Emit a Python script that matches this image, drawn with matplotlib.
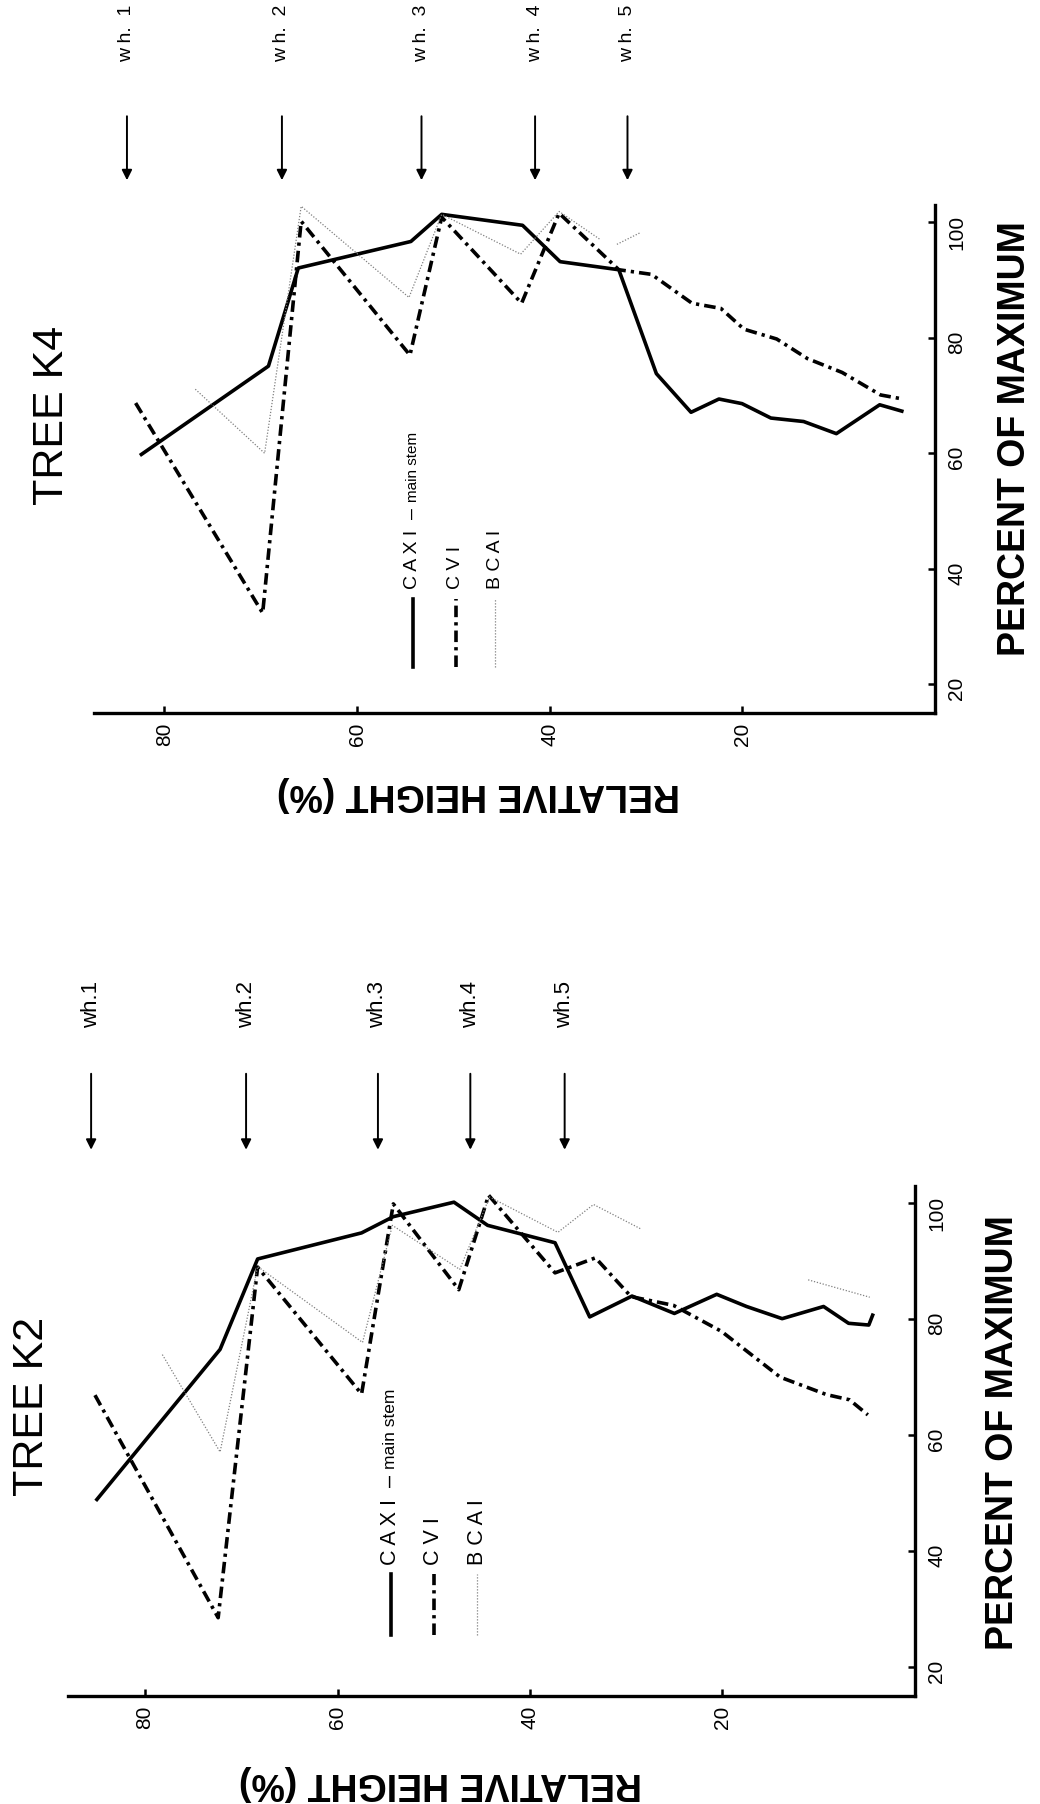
import numpy as np
import matplotlib
matplotlib.use("Agg")
import matplotlib.pyplot as plt

plt.rcParams["font.family"] = ["Liberation Sans", "DejaVu Sans"]

# ------------------------------------------------------------
# Tree K4: relative height (%) vs percent of maximum
# ------------------------------------------------------------
k4_caxi_height = [82.4, 69.2, 66.1, 54.4, 51.2, 42.8, 38.9, 32.8, 28.9, 25.3,
                  22.4, 20.0, 17.0, 13.6, 10.2, 5.7, 3.4]
k4_caxi_pct = [59.8, 75.1, 92.1, 96.7, 101.4, 99.5, 93.2, 91.8, 73.8, 67.1,
               69.4, 68.6, 66.1, 65.5, 63.4, 68.4, 67.3]

k4_cvi_height = [83.0, 69.8, 65.8, 54.5, 51.2, 42.9, 39.0, 32.8, 29.4, 25.2,
                 22.2, 19.8, 16.4, 13.2, 9.6, 5.6, 3.3]
k4_cvi_pct = [68.7, 32.3, 100.2, 77.0, 100.9, 86.0, 101.6, 91.8, 91.0, 86.0,
              85.1, 81.5, 79.8, 76.4, 74.0, 70.1, 69.4]

k4_bcai_height = [76.8, 69.6, 65.8, 54.6, 51.2, 43.0, 39.0, 34.7, np.nan, 33.0, 30.6]
k4_bcai_pct = [71.1, 60.0, 102.8, 87.0, 101.4, 94.5, 101.9, 97.0, np.nan, 96.2, 98.2]

k4_whorl_height = [83.9, 67.8, 53.3, 41.5, 31.9]
k4_whorl_labels = ["w h.  1", "w h.  2", "w h.  3", "w h.  4", "w h.  5"]

# ------------------------------------------------------------
# Tree K2
# ------------------------------------------------------------
k2_caxi_height = [85.0, 72.2, 68.3, 57.5, 54.2, 47.9, 44.4, 37.4, 33.8, 29.4,
                  25.0, 20.6, 17.5, 13.8, 9.5, 6.9, 4.8, 4.4]
k2_caxi_pct = [48.9, 74.8, 90.4, 94.9, 97.7, 100.2, 96.2, 93.2, 80.4, 84.0,
               81.0, 84.3, 82.2, 80.1, 82.2, 79.3, 79.0, 80.7]

k2_cvi_height = [85.2, 72.4, 68.3, 57.5, 54.2, 47.4, 44.3, 37.4, 33.2, 29.5,
                 25.1, 20.1, 14.0, 9.2, 6.8, 4.9]
k2_cvi_pct = [66.9, 28.5, 89.0, 67.1, 99.9, 85.1, 101.4, 88.0, 90.6, 83.9,
              82.4, 77.9, 70.0, 67.0, 66.1, 63.5]

k2_bcai_height = [78.2, 72.2, 68.3, 57.4, 54.3, 47.3, 44.2, 37.1, 33.4, 28.5,
                  np.nan, 11.1, 4.7]
k2_bcai_pct = [73.9, 57.1, 89.1, 76.0, 96.2, 88.6, 101.1, 95.0, 99.8, 95.6,
               np.nan, 86.8, 83.8]

k2_whorl_height = [85.6, 69.5, 55.8, 46.2, 36.4]
k2_whorl_labels = ["wh.1", "wh.2", "wh.3", "wh.4", "wh.5"]

height_ticks = [80, 60, 40, 20]
pct_ticks = [20, 40, 60, 80, 100]
legend_labels = ["C A X I  \u2013", "C V I", "B C A I"]

LW = 2.6
CVI_DASH = (0, (3.2, 1.4, 0.9, 1.4))
BCAI_DOT = (0, (1.0, 1.4))


def draw_tree(ax, title, caxi, cvi, bcai, whorl_h, whorl_lab, lay):
    ax.plot(caxi[0], caxi[1], color="black", lw=LW)
    ax.plot(cvi[0], cvi[1], color="black", lw=LW, linestyle=CVI_DASH)
    ax.plot(bcai[0], bcai[1], color="#808080", lw=0.9, linestyle=BCAI_DOT)

    ax.set_xlim(lay["xmax"], 0)
    ax.set_ylim(15, 103)

    for side in ["top", "left"]:
        ax.spines[side].set_visible(False)
    for side in ["bottom", "right"]:
        ax.spines[side].set_linewidth(2.4)

    ax.set_xticks(height_ticks)
    ax.set_yticks(pct_ticks)
    ax.yaxis.tick_right()
    ax.tick_params(axis="x", direction="in", length=5, width=1.8,
                   labelsize=15, labelrotation=90, pad=7)
    ax.tick_params(axis="y", direction="in", length=5, width=1.8,
                   labelsize=15, labelrotation=90, pad=9)

    # whorl markers above the plot
    xt = ax.get_xaxis_transform()
    for x, lab in zip(whorl_h, whorl_lab):
        ax.annotate("", xy=(x, lay["tip"]), xytext=(x, lay["tail"]),
                    xycoords=xt, textcoords=xt, annotation_clip=False,
                    arrowprops=dict(arrowstyle="-|>", color="black", lw=1.4,
                                    mutation_scale=15, shrinkA=0, shrinkB=0))
        ax.text(x, lay["wh_y"], lab, transform=xt, rotation=90,
                ha="center", va="center", fontsize=lay["wh_size"])

    ax.text(lay["title"][0], lay["title"][1], title, transform=ax.transAxes,
            rotation=90, ha="center", va="center", fontsize=31)
    ax.text(lay["pct_lab"][0], lay["pct_lab"][1], "PERCENT OF MAXIMUM",
            transform=ax.transAxes, rotation=90, ha="center", va="center",
            fontsize=27, fontweight="bold")
    ax.text(lay["ht_lab"][0], lay["ht_lab"][1], "RELATIVE HEIGHT (%)",
            transform=ax.transAxes, rotation=180, ha="center", va="center",
            fontsize=27, fontweight="bold")

    # legend, written sideways like the rest of the panel
    cols = lay["legend_x"]
    y0, y1, yt = lay["legend_y"]
    big, small = lay["legend_size"]
    styles = [dict(color="black", lw=LW),
              dict(color="black", lw=LW, linestyle=CVI_DASH),
              dict(color="#808080", lw=0.9, linestyle=BCAI_DOT)]
    for cx, lab, st in zip(cols, legend_labels, styles):
        ax.plot([cx, cx], [y0, y1], transform=ax.transAxes, clip_on=False, **st)
        t = ax.text(cx, yt, lab, transform=ax.transAxes, rotation=90,
                    ha="center", va="bottom", fontsize=big)
        if lab.startswith("C A X I"):
            ax.annotate("main stem", xy=(0.5, 1.0), xycoords=t,
                        xytext=(0, 4), textcoords="offset points",
                        rotation=90, ha="center", va="bottom", fontsize=small)


fig = plt.figure(figsize=(10.4, 18.04), dpi=100)

ax_k4 = fig.add_axes([0.0906, 0.6048, 0.8080, 0.2815])
ax_k2 = fig.add_axes([0.0654, 0.0599, 0.8144, 0.2827])

draw_tree(ax_k4, "TREE K4",
          (k4_caxi_height, k4_caxi_pct), (k4_cvi_height, k4_cvi_pct),
          (k4_bcai_height, k4_bcai_pct), k4_whorl_height, k4_whorl_labels,
          dict(xmax=87.3, tip=1.049, tail=1.175, wh_y=1.338, wh_size=14,
               title=(-0.05, 0.585), pct_lab=(1.096, 0.54), ht_lab=(0.457, -0.16),
               legend_x=[0.379, 0.430, 0.477], legend_y=(0.09, 0.225, 0.245),
               legend_size=(14, 11)))

draw_tree(ax_k2, "TREE K2",
          (k2_caxi_height, k2_caxi_pct), (k2_cvi_height, k2_cvi_pct),
          (k2_bcai_height, k2_bcai_pct), k2_whorl_height, k2_whorl_labels,
          dict(xmax=88, tip=1.071, tail=1.22, wh_y=1.355, wh_size=16,
               title=(-0.0425, 0.567), pct_lab=(1.104, 0.516), ht_lab=(0.44, -0.17),
               legend_x=[0.381, 0.432, 0.483], legend_y=(0.12, 0.24, 0.257),
               legend_size=(15.5, 12.5)))

fig.savefig("out.png", dpi=100)
